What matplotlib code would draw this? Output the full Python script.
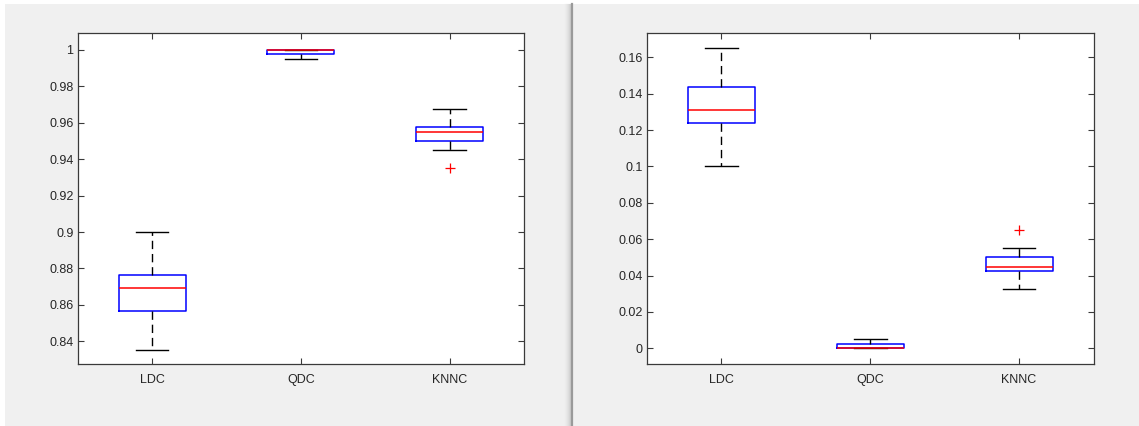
# ==========================================
# CLASSIFIER COMPARISON BOXPLOTS (LDC / QDC / KNNC)
# ==========================================

import matplotlib
matplotlib.use("Agg")
import matplotlib.pyplot as plt
from matplotlib.lines import Line2D
from matplotlib.patches import Rectangle
from matplotlib.ticker import FuncFormatter

plt.rcParams["font.family"] = ["Liberation Sans", "DejaVu Sans"]


# ==========================================
# DATA
# ==========================================

labels = ["LDC", "QDC", "KNNC"]

# left panel - accuracy
acc_whislo = [0.835, 0.995, 0.945]
acc_q1 = [0.8566, 0.9976, 0.950]
acc_med = [0.869, 1.000, 0.955]
acc_q3 = [0.8764, 1.000, 0.9577]
acc_whishi = [0.900, 1.000, 0.9676]
acc_fliers = [[], [], [0.935]]
acc_ticks = [0.84, 0.86, 0.88, 0.90, 0.92, 0.94, 0.96, 0.98, 1.00]

# right panel - error
err_whislo = [0.100, 0.000, 0.0324]
err_q1 = [0.1239, 0.000, 0.0425]
err_med = [0.1312, 0.000, 0.045]
err_q3 = [0.1435, 0.0024, 0.050]
err_whishi = [0.165, 0.005, 0.055]
err_fliers = [[], [], [0.065]]
err_ticks = [0.00, 0.02, 0.04, 0.06, 0.08, 0.10, 0.12, 0.14, 0.16]


# ==========================================
# HELPERS
# ==========================================

W, H = 1139, 426
BG = "#f0f0f0"
AX_COLOR = "#3a3a3a"


def make_stats(lo, q1, med, q3, hi, fliers):
    stats = []
    for i in range(len(labels)):
        stats.append({
            "label": labels[i],
            "whislo": lo[i], "q1": q1[i], "med": med[i],
            "q3": q3[i], "whishi": hi[i], "fliers": fliers[i],
        })
    return stats


def draw_panel(ax, stats, ticks, ylim):
    ax.bxp(
        stats,
        positions=[1, 2, 3],
        widths=0.45,
        capwidths=0.22,
        showfliers=True,
        boxprops=dict(color="blue", linewidth=1.1),
        medianprops=dict(color="red", linewidth=1.1),
        whiskerprops=dict(color="black", linewidth=1.0, linestyle=(0, (6, 3.5))),
        capprops=dict(color="black", linewidth=1.0),
        flierprops=dict(marker="+", markeredgecolor="red", markersize=7,
                        markeredgewidth=0.9, linestyle="none"),
    )
    ax.set_xlim(0.5, 3.5)
    ax.set_ylim(*ylim)
    ax.set_yticks(ticks)
    ax.yaxis.set_major_formatter(FuncFormatter(lambda v, p: f"{v:g}"))
    ax.set_facecolor("white")
    for s in ax.spines.values():
        s.set_color(AX_COLOR)
        s.set_linewidth(0.9)
    ax.tick_params(direction="in", length=4, width=0.8, color=AX_COLOR,
                   labelsize=9, labelcolor="#262626",
                   top=True, right=True)
    ax.tick_params(axis="y", pad=3)
    ax.tick_params(axis="x", pad=7)


# ==========================================
# FIGURE
# ==========================================

fig = plt.figure(figsize=(W / 100, H / 100), dpi=100, facecolor=BG)

# white screen borders + window separator
fig.add_artist(Rectangle((0, 1 - 4 / H), 1, 4 / H, transform=fig.transFigure,
                         facecolor="white", edgecolor="none"))
fig.add_artist(Rectangle((0, 0), 5 / W, 1, transform=fig.transFigure,
                         facecolor="white", edgecolor="none"))
shade = ["#ededed", "#e9e9e9", "#e4e4e4", "#dedede", "#d6d6d6", "#cccccc"]
for i, c in enumerate(shade):
    x = (565 + i) / W
    fig.add_artist(Line2D([x, x], [0, 1 - 4 / H], transform=fig.transFigure,
                          color=c, linewidth=0.75))
x = 572 / W
fig.add_artist(Line2D([x, x], [0, 1 - 4 / H], transform=fig.transFigure,
                      color="#9a9a9a", linewidth=1.6))

ax_top = 33
ax_bot = 364
ax_w = 446.5
ax1 = fig.add_axes([77.7 / W, (H - ax_bot) / H, ax_w / W, (ax_bot - ax_top) / H])
ax2 = fig.add_axes([647 / W, (H - ax_bot) / H, ax_w / W, (ax_bot - ax_top) / H])

draw_panel(ax1, make_stats(acc_whislo, acc_q1, acc_med, acc_q3, acc_whishi, acc_fliers),
           acc_ticks, (0.8275, 1.0093))
draw_panel(ax2, make_stats(err_whislo, err_q1, err_med, err_q3, err_whishi, err_fliers),
           err_ticks, (-0.0086, 0.1734))

fig.savefig("out.png", dpi=100, facecolor=BG)
